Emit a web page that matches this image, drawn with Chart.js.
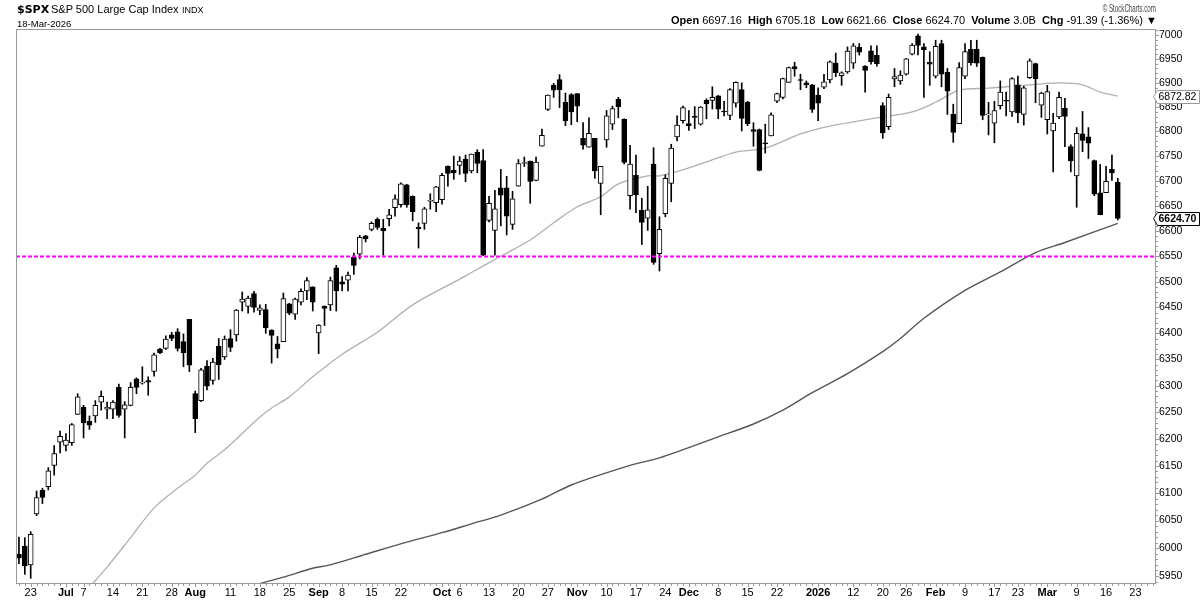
<!DOCTYPE html>
<html>
<head>
<meta charset="utf-8">
<script src="https://cdn.jsdelivr.net/npm/chart.js@4.4.1/dist/chart.umd.min.js"></script>
<style>
  body { margin: 0; background: #fff; }
  #wrap { position: relative; width: 1200px; height: 600px; font-family: "Liberation Sans", Arial, sans-serif; color: #000; }
  #chart { position: absolute; left: 0; top: 0; }
  .t { position: absolute; white-space: nowrap; }
</style>
</head>
<body>
<div id="wrap">
  <canvas id="chart" width="1200" height="600"></canvas>
  <div class="t" style="left:17px;top:3px;line-height:13px;font:bold 11px 'DejaVu Sans'">$SPX</div>
  <div class="t" style="left:51px;top:3px;line-height:13px;font-size:11px">S&amp;P 500 Large Cap Index</div>
  <div class="t" style="left:182px;top:5px;line-height:11px;font-size:9px">INDX</div>
  <div class="t" style="left:17px;top:18px;line-height:11px;font-size:9.5px">18-Mar-2026</div>
  <div class="t" style="right:44px;top:2px;line-height:12px;font-size:11px;color:#444;transform:scaleX(0.56);transform-origin:right center">&copy; StockCharts.com</div>
  <div class="t" style="left:671px;top:14px;line-height:13px;font-size:11px"><b>Open</b> 6697.16 &nbsp;<b>High</b> 6705.18 &nbsp;<b>Low</b> 6621.66 &nbsp;<b>Close</b> 6624.70 &nbsp;<b>Volume</b> 3.0B &nbsp;<b>Chg</b> -91.39 (-1.36%) &#9660;</div>
</div>
<script>
// Trading days shown (Jun 18 2025 - Mar 18 2026)
const dates = [
  "2025-06-18","2025-06-20","2025-06-23","2025-06-24","2025-06-25","2025-06-26","2025-06-27","2025-06-30",
  "2025-07-01","2025-07-02","2025-07-03","2025-07-07","2025-07-08","2025-07-09","2025-07-10","2025-07-11","2025-07-14","2025-07-15","2025-07-16","2025-07-17","2025-07-18","2025-07-21","2025-07-22","2025-07-23","2025-07-24","2025-07-25","2025-07-28","2025-07-29","2025-07-30","2025-07-31",
  "2025-08-01","2025-08-04","2025-08-05","2025-08-06","2025-08-07","2025-08-08","2025-08-11","2025-08-12","2025-08-13","2025-08-14","2025-08-15","2025-08-18","2025-08-19","2025-08-20","2025-08-21","2025-08-22","2025-08-25","2025-08-26","2025-08-27","2025-08-28","2025-08-29",
  "2025-09-02","2025-09-03","2025-09-04","2025-09-05","2025-09-08","2025-09-09","2025-09-10","2025-09-11","2025-09-12","2025-09-15","2025-09-16","2025-09-17","2025-09-18","2025-09-19","2025-09-22","2025-09-23","2025-09-24","2025-09-25","2025-09-26","2025-09-29","2025-09-30",
  "2025-10-01","2025-10-02","2025-10-03","2025-10-06","2025-10-07","2025-10-08","2025-10-09","2025-10-10","2025-10-13","2025-10-14","2025-10-15","2025-10-16","2025-10-17","2025-10-20","2025-10-21","2025-10-22","2025-10-23","2025-10-24","2025-10-27","2025-10-28","2025-10-29","2025-10-30","2025-10-31",
  "2025-11-03","2025-11-04","2025-11-05","2025-11-06","2025-11-07","2025-11-10","2025-11-11","2025-11-12","2025-11-13","2025-11-14","2025-11-17","2025-11-18","2025-11-19","2025-11-20","2025-11-21","2025-11-24","2025-11-25","2025-11-26","2025-11-28",
  "2025-12-01","2025-12-02","2025-12-03","2025-12-04","2025-12-05","2025-12-08","2025-12-09","2025-12-10","2025-12-11","2025-12-12","2025-12-15","2025-12-16","2025-12-17","2025-12-18","2025-12-19","2025-12-22","2025-12-23","2025-12-24","2025-12-26","2025-12-29","2025-12-30","2025-12-31",
  "2026-01-02","2026-01-05","2026-01-06","2026-01-07","2026-01-08","2026-01-09","2026-01-12","2026-01-13","2026-01-14","2026-01-15","2026-01-16","2026-01-20","2026-01-21","2026-01-22","2026-01-23","2026-01-26","2026-01-27","2026-01-28","2026-01-29","2026-01-30",
  "2026-02-02","2026-02-03","2026-02-04","2026-02-05","2026-02-06","2026-02-09","2026-02-10","2026-02-11","2026-02-12","2026-02-13","2026-02-17","2026-02-18","2026-02-19","2026-02-20","2026-02-23","2026-02-24","2026-02-25","2026-02-26","2026-02-27",
  "2026-03-02","2026-03-03","2026-03-04","2026-03-05","2026-03-06","2026-03-09","2026-03-10","2026-03-11","2026-03-12","2026-03-13","2026-03-16","2026-03-17","2026-03-18"
];
// empty slots to the right of the last bar
const futureDates = ["2026-03-19","2026-03-20","2026-03-23","2026-03-24","2026-03-25","2026-03-26"];

const opens = [
  5989,6004,5970,6062,6105,6112,6151,6194,
  6188,6193,6246,6260,6233,6243,6269,6256,6256,6297,6256,6263,6313,6305,6310,6327,6370,6371,6397,6403,6384,6427,
  6285,6272,6337,6310,6375,6355,6390,6397,6460,6452,6477,6444,6446,6406,6380,6384,6457,6437,6460,6482,6490,
  6401,6452,6455,6527,6500,6503,6548,6554,6590,6603,6623,6605,6624,6646,6652,6692,6669,6607,6615,6659,6656,
  6662,6729,6721,6731,6744,6720,6758,6741,6621,6601,6686,6686,6613,6689,6735,6740,6701,6770,6845,6895,6907,6860,6876,
  6878,6786,6768,6786,6695,6783,6815,6866,6825,6670,6711,6641,6625,6734,6555,6634,6695,6789,6822,
  6816,6831,6815,6864,6864,6873,6842,6833,6858,6886,6860,6804,6804,6777,6791,6862,6870,6901,6934,6906,6900,6896,
  6875,6891,6906,6941,6915,6923,6941,6974,6935,6967,6958,6853,6810,6908,6904,6918,6960,6998,6975,6943,
  6914,6982,6922,6835,6816,6914,6970,6970,6953,6834,6817,6853,6864,6840,6896,6835,6911,6940,6854,
  6824,6801,6830,6848,6769,6710,6795,6789,6741,6676,6676,6723,6697.16
];
const highs = [
  6020,6019,6030,6104,6109,6147,6188,6215,
  6210,6229,6285,6263,6243,6272,6290,6269,6272,6303,6270,6306,6315,6336,6317,6362,6371,6395,6402,6409,6399,6427,
  6290,6333,6348,6352,6390,6395,6407,6446,6480,6472,6481,6455,6456,6407,6394,6478,6458,6468,6486,6508,6490,
  6417,6453,6509,6532,6510,6519,6556,6591,6591,6618,6626,6623,6643,6672,6696,6693,6670,6616,6647,6674,6689,
  6715,6730,6750,6749,6752,6754,6763,6763,6669,6681,6723,6709,6679,6743,6748,6740,6748,6805,6875,6899,6917,6879,6878,
  6878,6818,6828,6786,6729,6843,6852,6870,6826,6772,6752,6665,6689,6767,6628,6712,6774,6832,6852,
  6843,6851,6851,6867,6892,6874,6862,6888,6902,6900,6862,6818,6805,6815,6838,6879,6910,6933,6943,6918,6904,6897,
  6890,6918,6946,6962,6923,6975,6982,6982,6936,6977,6977,6859,6877,6930,6925,6951,6982,7002,6982,6965,
  6989,6989,6930,6856,6942,6982,6989,6989,6954,6860,6862,6904,6881,6911,6914,6893,6950,6941,6881,
  6895,6837,6881,6868,6773,6808,6841,6808,6742,6733,6729,6752,6705.18
];
const lows = [
  5972,5953,5946,6059,6081,6106,6133,6174,
  6178,6188,6246,6202,6218,6231,6254,6238,6238,6241,6202,6262,6285,6303,6282,6318,6361,6369,6386,6366,6336,6327,
  6212,6270,6292,6303,6312,6350,6365,6385,6443,6439,6441,6436,6400,6343,6353,6384,6436,6427,6455,6465,6443,
  6361,6415,6444,6443,6482,6482,6514,6545,6578,6600,6603,6552,6610,6629,6647,6647,6620,6566,6603,6643,6638,
  6653,6689,6703,6713,6698,6716,6716,6551,6618,6552,6610,6592,6603,6689,6729,6655,6700,6770,6843,6870,6849,6812,6814,
  6820,6764,6768,6705,6632,6768,6804,6828,6734,6643,6636,6573,6601,6534,6521,6628,6658,6781,6817,
  6802,6806,6813,6826,6846,6826,6832,6824,6850,6801,6812,6770,6720,6756,6791,6859,6867,6901,6914,6886,6890,6839,
  6822,6888,6900,6913,6895,6920,6930,6958,6881,6939,6935,6786,6804,6892,6897,6916,6958,6958,6870,6895,
  6910,6892,6835,6778,6816,6909,6937,6934,6824,6793,6777,6846,6832,6831,6818,6813,6909,6859,6829,
  6795,6718,6826,6769,6718,6647,6759,6745,6670,6632,6676,6701,6621.66
];
const closes = [
  5982,5968,6025,6092,6092,6141,6173,6205,
  6198,6227,6279,6230,6226,6263,6280,6260,6269,6244,6264,6297,6297,6306,6307,6359,6363,6389,6390,6371,6363,6339,
  6238,6330,6299,6345,6340,6389,6373,6445,6466,6468,6450,6449,6411,6396,6370,6467,6439,6466,6481,6502,6460,
  6416,6448,6502,6482,6495,6513,6532,6587,6584,6615,6607,6600,6632,6664,6694,6652,6638,6604,6644,6661,6688,
  6711,6715,6716,6740,6715,6754,6735,6552,6655,6644,6671,6629,6664,6735,6735.5,6699,6738,6792,6875,6885,6886,6822,6840,
  6852,6772,6796,6720,6729,6832,6847,6851,6737,6734,6672,6617,6642,6538,6603,6705,6766,6813,6849,
  6812,6829,6850,6857,6870,6846,6840,6886,6901,6827,6816,6800,6721,6775,6834,6878,6909,6932,6929,6905,6896,6845,
  6858,6902,6944,6921,6921,6966,6977,6964,6926,6944,6940,6797,6870,6913,6916,6950,6979,6978,6969,6939,
  6976,6918,6883,6798,6932,6965,6942,6941,6833,6836,6843,6881,6862,6909,6838,6890,6946,6909,6879,
  6882,6817,6870,6831,6740,6796,6782,6776,6673,6632,6699,6716,6624.70
];

// Moving averages at selected days
const ma50Dates = ["2025-07-08","2025-07-11","2025-07-17","2025-07-23","2025-07-29","2025-08-01","2025-08-05","2025-08-08","2025-08-12","2025-08-18","2025-08-20","2025-08-25","2025-08-29","2025-09-08","2025-09-16","2025-09-24","2025-10-06","2025-10-08","2025-10-15","2025-10-22","2025-10-28","2025-11-03","2025-11-07","2025-11-12","2025-11-19","2025-11-21","2025-12-01","2025-12-04","2025-12-11","2025-12-18","2025-12-29","2026-01-06","2026-01-16","2026-01-27","2026-02-02","2026-02-06","2026-02-13","2026-02-23","2026-03-04","2026-03-10","2026-03-13","2026-03-18"];
const ma50Values = [5930,5966,6019,6073,6109,6133,6155,6180,6200,6241,6258,6279,6317,6360,6402,6455,6505,6518,6550,6582,6616,6648,6668,6694,6710,6710,6726,6738,6758,6766,6795,6811,6828,6840,6860,6885,6889,6894,6900,6896,6881,6872.82];
const ma200Dates = ["2025-08-15","2025-08-22","2025-08-29","2025-09-04","2025-09-12","2025-09-23","2025-10-01","2025-10-08","2025-10-15","2025-10-24","2025-10-31","2025-11-14","2025-11-21","2025-12-08","2025-12-16","2025-12-23","2025-12-31","2026-01-09","2026-01-20","2026-01-23","2026-01-29","2026-02-09","2026-02-18","2026-02-26","2026-03-05","2026-03-18"];
const ma200Values = [5934,5948,5964,5970,5989,6011,6028,6044,6060,6089,6115,6151,6165,6204,6228,6254,6287,6323,6365,6390,6429,6483,6519,6557,6577,6615];

const supportLevel = 6550;
const yTickValues = [5950,6000,6050,6100,6150,6200,6250,6300,6350,6400,6450,6500,6550,6600,6650,6700,6750,6800,6850,6900,6950,7000];
const tickDates = ["2025-06-23","2025-07-01","2025-07-07","2025-07-14","2025-07-21","2025-07-28","2025-08-01","2025-08-11","2025-08-18","2025-08-25","2025-09-02","2025-09-08","2025-09-15","2025-09-22","2025-10-01","2025-10-06","2025-10-13","2025-10-20","2025-10-27","2025-11-03","2025-11-10","2025-11-17","2025-11-24","2025-12-01","2025-12-08","2025-12-15","2025-12-22","2026-01-02","2026-01-12","2026-01-20","2026-01-26","2026-02-02","2026-02-09","2026-02-17","2026-02-23","2026-03-02","2026-03-09","2026-03-16","2026-03-23"];
const tickTexts = ["23","Jul","7","14","21","28","Aug","11","18","25","Sep","8","15","22","Oct","6","13","20","27","Nov","10","17","24","Dec","8","15","22","2026","12","20","26","Feb","9","17","23","Mar","9","16","23"];
const monthTexts = ["Jul","Aug","Sep","Oct","Nov","Dec","2026","Feb","Mar"];

const FONT = "'Liberation Sans', Arial, sans-serif";
const allDates = dates.concat(futureDates);

const wickData = dates.map((d, i) => [lows[i], highs[i]]);
const bodyData = dates.map((d, i) => [opens[i], closes[i]]);
const bodyFill = dates.map((d, i) => closes[i] >= opens[i] ? "#ffffff" : "#000000");
const ma50Points = ma50Dates.map((d, i) => ({ x: d, y: ma50Values[i] }));
const ma200Points = ma200Dates.map((d, i) => ({ x: d, y: ma200Values[i] }));

// Frame, support line, axis tick marks and price flags
const overlay = {
  id: "overlay",
  afterDatasetsDraw(chart) {
    const { ctx, chartArea: a, scales: { y } } = chart;
    const yy = Math.round(y.getPixelForValue(supportLevel)) + 0.5;
    ctx.save();
    ctx.strokeStyle = "#ff00ff";
    ctx.lineWidth = 2;
    ctx.setLineDash([4, 2]);
    ctx.beginPath();
    ctx.moveTo(a.left, yy);
    ctx.lineTo(a.right, yy);
    ctx.stroke();
    ctx.restore();
  },
  afterDraw(chart) {
    const { ctx, chartArea: a, scales: { x, y } } = chart;
    ctx.save();
    ctx.strokeStyle = "#999";
    ctx.lineWidth = 1;
    ctx.strokeRect(Math.round(a.left) + 0.5, Math.round(a.top) + 0.5, Math.round(a.width) - 1, Math.round(a.height) - 1);

    // right axis ticks
    ctx.beginPath();
    for (let v = 5940; v <= 7010; v += 10) {
      const py = Math.round(y.getPixelForValue(v)) + 0.5;
      if (py < a.top || py > a.bottom) continue;
      const len = yTickValues.includes(v) ? 3 : 2;
      ctx.moveTo(a.right, py);
      ctx.lineTo(a.right + len, py);
    }
    // bottom axis ticks, one per day
    allDates.forEach((d) => {
      const px = Math.round(x.getPixelForValue(d)) + 0.5;
      const len = tickDates.includes(d) ? 3 : 2;
      ctx.moveTo(px, a.bottom);
      ctx.lineTo(px, a.bottom + len);
    });
    ctx.stroke();

    // price flags on the right axis
    const flag = (value, text, bold, color) => {
      const py = Math.round(y.getPixelForValue(value)) + 0.5;
      const l = Math.round(a.right) - 2.5, r = 1199.5;
      ctx.beginPath();
      ctx.moveTo(l, py);
      ctx.lineTo(l + 4, py - 6);
      ctx.lineTo(r, py - 6);
      ctx.lineTo(r, py + 7);
      ctx.lineTo(l + 4, py + 7);
      ctx.closePath();
      ctx.fillStyle = "#fff";
      ctx.fill();
      ctx.strokeStyle = color;
      ctx.lineWidth = 1;
      ctx.stroke();
      ctx.fillStyle = "#000";
      ctx.font = (bold ? "bold " : "") + "10.5px " + FONT;
      ctx.textBaseline = "middle";
      ctx.textAlign = "left";
      ctx.fillText(text, l + 5, py + 1);
    };
    flag(ma50Values[ma50Values.length - 1], "6872.82", false, "#999");
    flag(closes[closes.length - 1], "6624.70", true, "#000");
    ctx.restore();
  }
};

new Chart(document.getElementById("chart"), {
  type: "bar",
  data: {
    labels: allDates,
    datasets: [
      {
        label: "Body",
        data: bodyData,
        backgroundColor: bodyFill,
        borderColor: "#000",
        borderWidth: 1,
        borderSkipped: false,
        barThickness: 5,
        minBarLength: 1,
        grouped: false,
        order: 0
      },
      {
        label: "Wick",
        data: wickData,
        backgroundColor: "#000",
        borderWidth: 0,
        barThickness: 1,
        grouped: false,
        order: 1
      },
      {
        type: "line",
        label: "MA50",
        data: ma50Points,
        borderColor: "#b0b0b0",
        borderWidth: 1.3,
        pointRadius: 0,
        tension: 0.3,
        order: 2
      },
      {
        type: "line",
        label: "MA200",
        data: ma200Points,
        borderColor: "#555555",
        borderWidth: 1.4,
        pointRadius: 0,
        tension: 0.3,
        order: 3
      }
    ]
  },
  options: {
    responsive: false,
    devicePixelRatio: 1,
    animation: false,
    events: [],
    layout: { autoPadding: false, padding: { top: 29, left: 16, right: 0, bottom: 0 } },
    plugins: { legend: { display: false }, tooltip: { enabled: false } },
    scales: {
      x: {
        type: "category",
        offset: true,
        grid: { display: false, drawTicks: false },
        border: { display: false },
        afterFit: (s) => { s.height = 16; },
        ticks: {
          autoSkip: false,
          maxRotation: 0,
          minRotation: 0,
          padding: 2,
          color: "#000",
          callback: function (v) {
            const k = tickDates.indexOf(this.getLabelForValue(v));
            return k < 0 ? null : tickTexts[k];
          },
          font: (c) => ({ family: FONT, size: 11, weight: c.tick && monthTexts.includes(c.tick.label) ? "bold" : "normal" })
        }
      },
      y: {
        type: "logarithmic",
        position: "right",
        min: 5935.8,
        max: 7012.6,
        afterFit: (s) => { s.width = 44; },
        afterBuildTicks: (s) => { s.ticks = yTickValues.map((v) => ({ value: v })); },
        grid: { display: false, drawTicks: false },
        border: { display: false },
        ticks: {
          autoSkip: false,
          padding: 3,
          color: "#000",
          font: { family: FONT, size: 10.5 },
          callback: (v) => String(v)
        }
      }
    }
  },
  plugins: [overlay]
});
</script>
</body>
</html>
